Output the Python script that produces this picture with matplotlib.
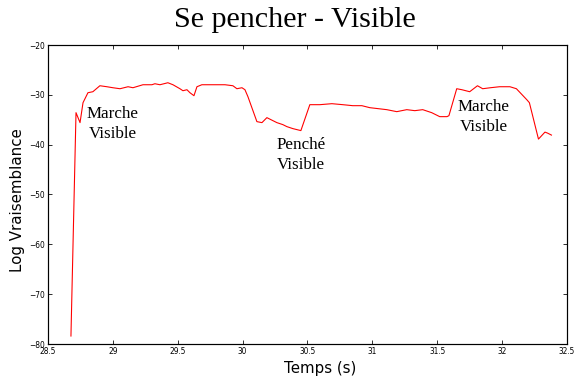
import matplotlib
matplotlib.use("Agg")
import matplotlib.pyplot as plt

# temps (s) et log vraisemblance
temps = [28.677, 28.716, 28.747, 28.770, 28.808, 28.846, 28.900, 28.954, 29.000,
         29.055, 29.117, 29.155, 29.232, 29.301, 29.324, 29.363, 29.424, 29.463,
         29.517, 29.540, 29.571, 29.594, 29.625, 29.648, 29.686, 29.725, 29.802,
         29.864, 29.925, 29.956, 29.995, 30.018, 30.041, 30.110, 30.149, 30.187,
         30.264, 30.310, 30.341, 30.387, 30.449, 30.518, 30.595, 30.688, 30.772,
         30.849, 30.919, 30.980, 31.111, 31.188, 31.265, 31.327, 31.388, 31.457,
         31.519, 31.575, 31.590, 31.650, 31.690, 31.750, 31.790, 31.810, 31.850,
         31.910, 31.980, 32.060, 32.110, 32.190, 32.210, 32.280, 32.330, 32.350,
         32.380]
log_vrais = [-78.4, -33.6, -35.6, -31.6, -29.6, -29.4, -28.2, -28.4, -28.6,
             -28.8, -28.4, -28.6, -28.0, -28.0, -27.8, -28.0, -27.6, -28.0,
             -28.8, -29.2, -29.0, -29.6, -30.2, -28.4, -28.0, -28.0, -28.0,
             -28.0, -28.2, -28.8, -28.6, -29.0, -30.4, -35.4, -35.6, -34.6,
             -35.6, -36.0, -36.4, -36.8, -37.2, -32.0, -32.0, -31.8, -32.0,
             -32.2, -32.2, -32.6, -33.0, -33.4, -33.0, -33.2, -33.0, -33.6,
             -34.4, -34.4, -34.2, -28.8, -29.0, -29.4, -28.6, -28.2, -28.8,
             -28.6, -28.4, -28.4, -28.8, -31.0, -31.6, -38.9, -37.5, -37.7,
             -38.1]

etiquettes = ["Marche\nVisible", "Penché\nVisible", "Marche\nVisible"]
etiq_x = [29.0, 30.45, 31.86]
etiq_y = [-35.9, -42.0, -34.4]

fig = plt.figure(figsize=(8, 5.28), dpi=72)
ax = fig.add_axes([0.0833, 0.0947, 0.9011, 0.7869])

ax.plot(temps, log_vrais, color="red", linewidth=1.1)

for txt, x, y in zip(etiquettes, etiq_x, etiq_y):
    ax.text(x, y, txt, ha="center", va="center", fontsize=17,
            family="Liberation Serif", linespacing=1.35)

ax.set_xlim(28.5, 32.5)
ax.set_ylim(-80, -20)
ax.set_xticks([28.5, 29, 29.5, 30, 30.5, 31, 31.5, 32, 32.5])
ax.set_xticklabels(["28.5", "29", "29.5", "30", "30.5", "31", "31.5", "32", "32.5"])
ax.set_yticks(range(-80, -19, 10))
ax.tick_params(direction="in", top=True, right=True, length=4, labelsize=7.5, pad=3)
for s in ax.spines.values():
    s.set_linewidth(1.2)

ax.set_xlabel("Temps (s)", fontsize=15)
ax.xaxis.set_label_coords(0.524, -0.055)
ax.set_ylabel("Log Vraisemblance", fontsize=15)
ax.yaxis.set_label_coords(-0.044, 0.48)

fig.text(0.512, 0.947, "Se pencher - Visible", ha="center", va="center",
         fontsize=30, family="Liberation Serif")

fig.savefig("out.png", dpi=72)
